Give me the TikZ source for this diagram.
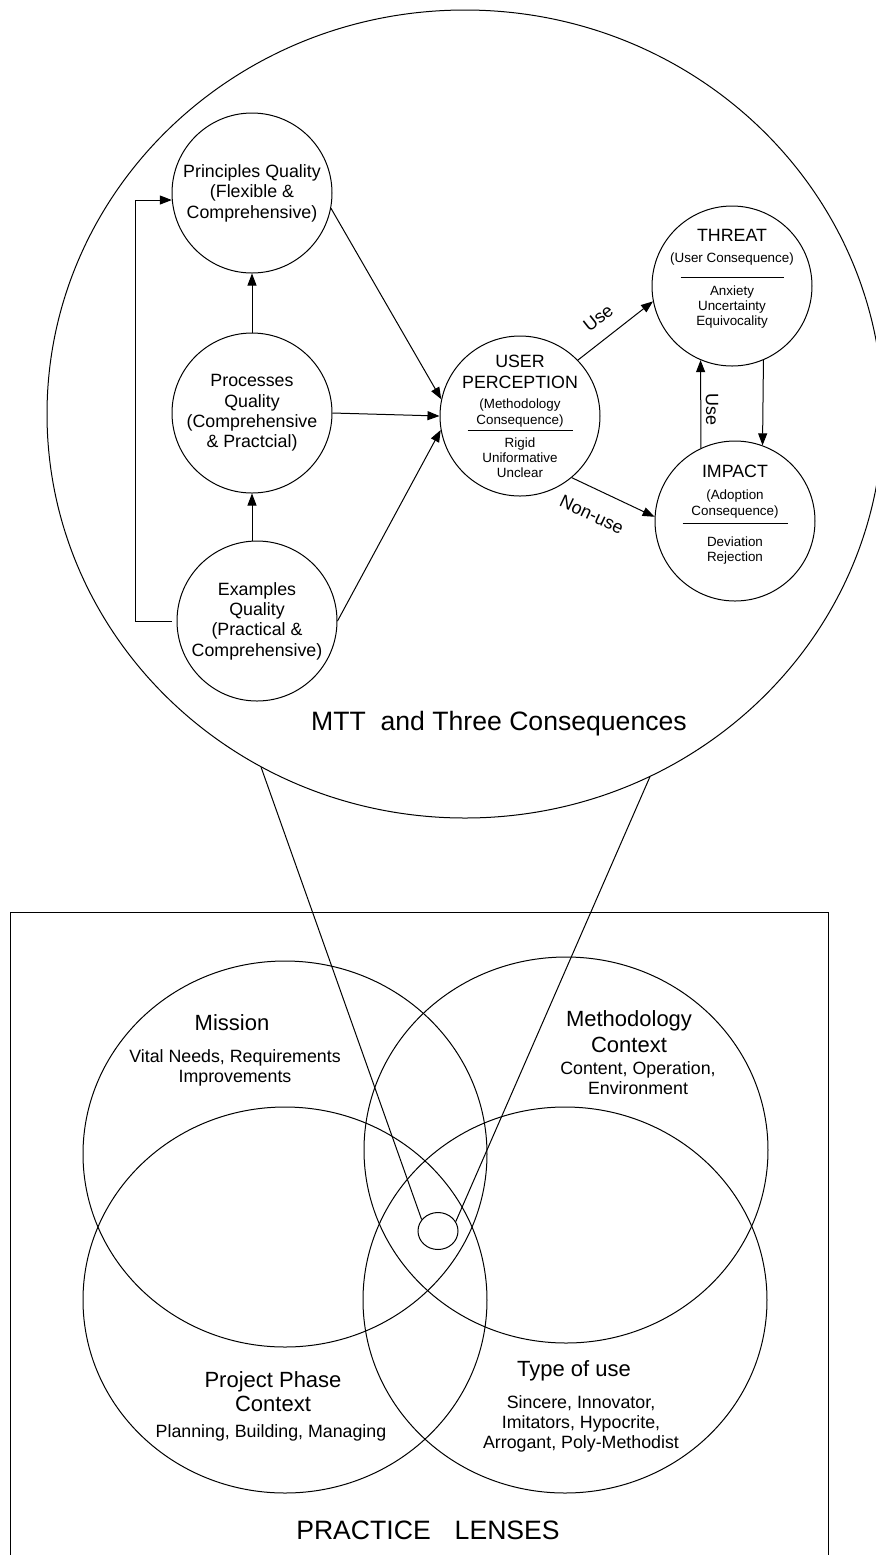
\documentclass[tikz,border=0pt]{standalone}
\usepackage{fontspec}
\setmainfont{Liberation Sans}
\usetikzlibrary{positioning,shapes.geometric,arrows.meta}

\newcommand{\ctitle}{\fontsize{8.9}{10}\selectfont}

\begin{document}
\begin{tikzpicture}
	[x=0.5pt, y=-0.5pt, line width=0.5pt,
	qual/.style={circle, draw, minimum size=80pt, inner sep=0pt, align=center, font=\fontsize{8.9}{10.2}\selectfont},
	consq/.style={circle, draw, minimum size=80pt, inner sep=0pt},
	consqtext/.style={align=center, inner sep=0pt, font=\fontsize{6.7}{7.5}\selectfont},
	venn/.style={ellipse, draw, minimum width=202pt, minimum height=193pt, inner sep=0pt},
	vtitle/.style={align=center, font=\fontsize{11}{13}\selectfont},
	vitems/.style={align=center, font=\fontsize{8.9}{10}\selectfont},
	tag/.style={font=\fontsize{9}{10}\selectfont, inner sep=1.5pt},
	arr/.style={-{Triangle[length=6pt, width=4.5pt]}}]
	\useasboundingbox (0,0) rectangle (875,1555);

	\node[ellipse, draw, minimum width=418pt, minimum height=404pt, inner sep=0pt] (mtt) at (465,414) {};
	\node[font=\fontsize{13.3}{15}\selectfont] (mtttitle) at (499,724) {MTT\ \ and Three Consequences};

	\node[qual] (princ) at (252,193) {Principles Quality\\(Flexible \&\\Comprehensive)};
	\node[qual] (proc) at (252,413) {Processes\\Quality\\(Comprehensive\\\& Practcial)};
	\node[qual] (exa) at (257,621) {Examples\\Quality\\(Practical \&\\Comprehensive)};

	\node[consq, label={[consqtext, name=usertext]center:{{\ctitle USER}\\[3pt]{\ctitle PERCEPTION}\\[2.5pt](Methodology\\[0.5pt]Consequence)\\[-4.3pt]\smash{\rule{52.5pt}{0.4pt}}\\[0.8pt]Rigid\\Uniformative\\Unclear}}] (user) at (520,416) {};
	\node[consq, label={[consqtext, name=threattext, yshift=3.5pt]center:{{\ctitle THREAT}\\[3pt](User Consequence)\\[0.2pt]\smash{\rule{51.5pt}{0.4pt}}\\[1.3pt]Anxiety\\Uncertainty\\Equivocality}}] (threat) at (732,286) {};
	\node[consq, label={[consqtext, name=impacttext, yshift=3.25pt]center:{{\ctitle IMPACT}\\[3.5pt](Adoption\\[0.5pt]Consequence)\\[-3.3pt]\smash{\rule{52.5pt}{0.4pt}}\\[3.8pt]Deviation\\Rejection}}] (impact) at (735,521) {};

	\draw[arr] (proc.north) -- (princ.south);
	\draw[arr] (exa.north -| proc.south) -- (proc.south);
	\coordinate (loop) at (135,621);
	\draw[arr] ([xshift=-2.5pt]exa.west) -- (loop) |- (princ.185);
	\draw[arr] (princ.-11) -- (user.168);
	\draw[arr] (proc.east) -- (user.west);
	\draw[arr] (exa.east) -- (user.190);
	\draw[arr] (user.44) -- node[tag, pos=0.44, above=5.5pt, sloped] (usea) {Use} (threat.191);
	\draw[arr] (user.-50) -- node[tag, pos=0.37, below=7.5pt, sloped] (nonuse) {Non-use} (impact.177);
	\draw[arr] (impact.115) -- node[tag, pos=0.44, above=0.8pt, sloped] (useb) {Use} (threat.247);
	\draw[arr] (threat.293) -- (impact.70);

	\draw (10,912) rectangle (828,1560);
	\node[venn] (mission) at (285,1154) {};
	\node[venn] (phase) at (285,1300) {};
	\node[venn] (method) at (566,1150) {};
	\node[venn] (usetype) at (565,1300) {};
	\node[ellipse, draw, minimum width=20pt, minimum height=18.5pt, inner sep=0pt] (focus) at (438,1231) {};
	\draw (focus.145) -- (mtt.240.7);
	\draw (focus.28) -- (mtt.297.6);

	\node[vtitle] (missiont) at (232,1023) {Mission};
	\node[vitems] (missioni) at (235,1068) {Vital Needs, Requirements\\Improvements};
	\node[vtitle] (methodt) at (629,1032) {Methodology\\Context};
	\node[vitems] (methodi) at (638,1078) {Content, Operation,\\Environment};
	\node[vtitle] (phaset) at (273,1392) {Project Phase\\[-1pt]Context};
	\node[vitems] (phasei) at (271,1433) {Planning, Building, Managing};
	\node[vtitle] (usetypet) at (574,1371) {Type of use};
	\node[vitems] (usetypei) at (581,1424) {Sincere, Innovator,\\Imitators, Hypocrite,\\Arrogant, Poly-Methodist};
	\node[font=\fontsize{13.3}{15}\selectfont] (lenses) at (428,1530) {PRACTICE\hspace{0.9em}LENSES};
\end{tikzpicture}
\end{document}
